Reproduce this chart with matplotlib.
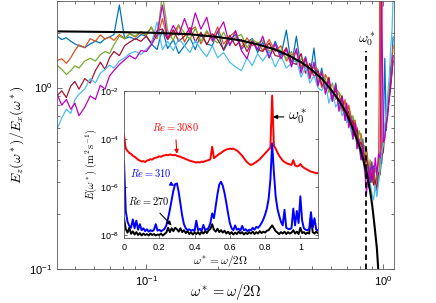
import numpy as np
import matplotlib
matplotlib.use("Agg")
import matplotlib.pyplot as plt
from matplotlib.ticker import NullFormatter, NullLocator

plt.rcParams['font.family'] = ['Liberation Sans', 'DejaVu Sans']
plt.rcParams['mathtext.fontset'] = 'cm'

# ---- main panel: E_z/E_x spectra ratio (omega* on log axis) ----
w_main = [0.042, 0.044, 0.046, 0.048, 0.050, 0.052, 0.055, 0.058, 0.061, 0.064,
          0.067, 0.070, 0.073, 0.077, 0.081, 0.085, 0.090, 0.095,
          0.100, 0.105, 0.111, 0.117, 0.123, 0.130, 0.137, 0.145, 0.153, 0.161,
          0.170, 0.180, 0.190, 0.200, 0.212, 0.225, 0.238, 0.252, 0.266, 0.280, 0.295,
          0.31, 0.33, 0.35, 0.37, 0.39, 0.41, 0.43, 0.45, 0.47, 0.49,
          0.51, 0.53, 0.55, 0.57, 0.59, 0.61, 0.63, 0.65, 0.67, 0.69,
          0.700, 0.715, 0.730, 0.745, 0.760, 0.775, 0.790, 0.805, 0.820, 0.835,
          0.850, 0.865, 0.880, 0.895, 0.910, 0.925, 0.940, 0.955, 0.970, 0.985,
          1.000, 1.015, 1.030, 1.045, 1.060, 1.075, 1.090, 1.100]

ratio_blue = [1.92, 1.84, 1.88, 1.80, 1.74, 1.70, 1.66, 1.74, 1.80, 1.76, 1.86, 1.90, 1.96, 2.85, 1.86, 1.90, 1.84, 1.96,
              1.92, 1.74, 1.62, 2.10, 1.64, 1.84, 1.54, 1.70, 1.88, 1.62, 1.96, 1.74, 1.70, 2.05, 1.60, 1.84, 1.96, 1.62, 1.78, 1.86, 1.56,
              1.78, 1.46, 1.80, 1.50, 2.07, 1.32, 1.92, 1.26, 1.48, 1.14, 1.65, 1.03, 1.28, 0.98, 1.01, 0.84, 1.06, 0.78, 0.89, 0.66,
              0.82, 0.64, 0.70, 0.55, 0.66, 0.52, 0.50, 0.42, 0.52, 0.40, 0.44, 0.31, 0.38, 0.30, 0.37, 0.28, 0.33, 0.31, 0.41, 0.38,
              0.55, 1.45, 0.58, 0.84, 0.86, 1.30, 1.48, 1.90]
ratio_orange = [1.41, 1.44, 1.36, 1.46, 1.60, 1.72, 1.66, 1.86, 1.80, 1.95, 1.85, 1.90, 1.82, 1.96, 1.86, 1.98, 1.90, 2.02,
                1.94, 2.15, 1.86, 2.40, 1.84, 1.98, 2.22, 1.78, 2.06, 2.16, 1.74, 2.02, 1.84, 2.16, 1.74, 1.92, 2.04, 1.66, 1.88, 1.70, 1.78,
                1.60, 1.84, 1.58, 1.70, 1.40, 1.52, 1.56, 1.30, 1.44, 1.20, 1.30, 1.26, 1.00, 1.18, 1.08, 0.88, 0.98, 0.94, 0.74, 0.86,
                0.66, 0.80, 0.70, 0.58, 0.66, 0.58, 0.46, 0.56, 0.48, 0.40, 0.46, 0.38, 0.31, 0.37, 0.34, 0.29, 0.35, 0.38, 3.20, 0.42,
                0.52, 0.56, 0.70, 0.74, 0.98, 1.08, 1.45, 1.70]
ratio_green = [1.33, 1.26, 1.18, 1.24, 1.32, 1.28, 1.40, 1.45, 1.40, 1.52, 1.58, 1.54, 1.72, 1.92, 1.86, 1.98, 1.92, 2.04,
               1.96, 2.16, 1.86, 3.30, 2.06, 1.82, 2.20, 2.00, 1.84, 2.12, 1.80, 2.06, 1.86, 1.76, 2.02, 1.72, 1.90, 1.96, 1.66, 1.84, 1.76,
               1.82, 1.58, 1.64, 1.60, 1.44, 1.58, 1.36, 1.44, 1.40, 1.16, 1.32, 1.10, 1.22, 1.12, 0.94, 1.06, 0.86, 0.94, 0.88, 0.70,
               0.80, 0.72, 0.62, 0.70, 0.60, 0.50, 0.58, 0.52, 0.42, 0.48, 0.42, 0.34, 0.40, 0.35, 0.30, 0.36, 0.33, 0.30, 0.44, 0.40,
               0.52, 0.60, 0.72, 0.78, 0.98, 1.06, 1.30, 1.50]
ratio_darkred = [0.90, 0.96, 0.88, 1.02, 1.08, 0.98, 1.12, 1.06, 1.24, 1.38, 1.26, 1.46, 1.58, 1.50, 1.70, 1.78, 1.86, 1.80,
                 1.92, 1.76, 2.06, 2.10, 1.84, 2.08, 1.80, 1.92, 2.14, 1.78, 2.02, 1.72, 1.98, 1.84, 1.62, 1.94, 1.70, 1.84, 1.58, 1.80, 1.62,
                 1.58, 1.76, 1.50, 1.48, 1.66, 1.38, 1.34, 1.54, 1.20, 1.36, 1.14, 1.24, 1.04, 0.98, 1.14, 0.86, 0.98, 0.80, 0.90, 0.72,
                 0.70, 0.74, 0.60, 0.66, 0.54, 0.60, 0.47, 0.50, 0.46, 0.38, 0.40, 0.36, 0.30, 0.34, 0.29, 0.31, 0.27, 0.34, 0.33, 0.42,
                 0.44, 0.56, 0.62, 0.76, 0.86, 1.08, 1.22, 1.40]
ratio_lightblue = [0.59, 0.68, 0.76, 0.72, 0.86, 0.92, 0.98, 1.12, 1.06, 1.20, 1.26, 1.33, 1.28, 1.40, 1.46, 1.54, 1.58, 1.52,
                   1.62, 1.74, 2.30, 1.62, 1.80, 1.60, 1.86, 1.70, 1.56, 1.82, 1.62, 1.48, 1.70, 1.46, 1.56, 1.38, 1.30, 1.24, 1.46, 1.32, 1.54,
                   1.40, 1.58, 1.30, 1.50, 1.28, 1.36, 1.42, 1.14, 1.30, 1.06, 1.16, 1.00, 0.96, 1.06, 0.82, 0.96, 0.78, 0.84, 0.70, 0.76,
                   0.64, 0.68, 0.58, 0.52, 0.60, 0.46, 0.48, 0.40, 0.42, 0.34, 0.36, 0.28, 0.30, 0.26, 0.24, 0.29, 0.25, 0.30, 0.35, 0.44,
                   0.48, 0.62, 0.70, 0.92, 1.15, 1.65, 2.10, 3.20]
ratio_magenta = [0.92, 0.80, 0.86, 0.76, 0.82, 0.70, 0.78, 0.90, 0.86, 1.03, 0.98, 1.16, 1.24, 1.34, 1.42, 1.50, 1.44, 1.60,
                 1.58, 1.72, 1.95, 2.85, 1.86, 2.20, 1.94, 2.40, 1.98, 2.58, 2.10, 2.44, 1.80, 2.02, 2.30, 1.70, 2.06, 1.60, 1.44, 1.80, 1.62,
                 1.92, 1.46, 1.74, 1.44, 1.62, 1.30, 1.64, 1.20, 1.46, 1.12, 1.38, 1.02, 1.22, 0.92, 1.10, 0.84, 1.04, 0.74, 0.88, 0.66,
                 0.82, 0.60, 0.68, 0.52, 0.64, 0.46, 0.52, 0.40, 0.48, 0.35, 0.26, 0.37, 0.30, 0.39, 0.31, 0.41, 0.33, 0.43, 0.41, 3.30,
                 0.50, 0.52, 0.64, 0.70, 0.88, 1.00, 1.24, 1.50]

# theoretical ratio (black curve)
w_theory = [0.042, 0.06, 0.08, 0.10, 0.15, 0.20, 0.25, 0.30, 0.35, 0.40, 0.45, 0.50, 0.55,
            0.60, 0.65, 0.70, 0.75, 0.80, 0.85, 0.88, 0.90, 0.92, 0.94, 0.95, 0.96, 0.97]
ratio_theory = [2.04, 2.03, 2.02, 2.01, 1.97, 1.90, 1.82, 1.72, 1.62, 1.50, 1.38, 1.25, 1.12,
                0.98, 0.85, 0.72, 0.58, 0.46, 0.34, 0.27, 0.22, 0.17, 0.13, 0.105, 0.085, 0.06]

w0_star = 0.848
w0_line_y = [0.1, 1.6]

# ---- inset: E(omega*) for three Re (log10 of E, m^2 s^-1) ----
w_inset = [0.00, 0.01, 0.02, 0.03, 0.04, 0.05, 0.06, 0.07, 0.08, 0.09,
           0.10, 0.11, 0.12, 0.13, 0.14, 0.15, 0.16, 0.17, 0.18, 0.19,
           0.20, 0.21, 0.22, 0.23, 0.24, 0.25, 0.26, 0.27, 0.28, 0.29,
           0.30, 0.31, 0.32, 0.33, 0.34, 0.35, 0.36, 0.37, 0.38, 0.39,
           0.40, 0.41, 0.42, 0.43, 0.44, 0.45, 0.46, 0.47, 0.48, 0.49,
           0.50, 0.51, 0.52, 0.53, 0.54, 0.55, 0.56, 0.57, 0.58, 0.59,
           0.60, 0.61, 0.62, 0.63, 0.64, 0.65, 0.66, 0.67, 0.68, 0.69,
           0.70, 0.71, 0.72, 0.73, 0.74, 0.75, 0.76, 0.77, 0.78, 0.79,
           0.80, 0.81, 0.82, 0.83, 0.84, 0.85, 0.86, 0.87, 0.88, 0.89,
           0.90, 0.91, 0.92, 0.93, 0.94, 0.95, 0.96, 0.97, 0.98, 0.99,
           1.00, 1.01, 1.02, 1.03, 1.04, 1.05, 1.06, 1.07, 1.08, 1.09, 1.10]

logE_re3080 = [-3.84, -4.40, -4.50, -4.58, -4.62, -4.70, -4.74, -4.80, -4.86, -4.90,
               -4.94, -4.92, -4.96, -4.90, -4.88, -4.84, -4.86, -4.80, -4.78, -4.76,
               -4.72, -4.74, -4.70, -4.68, -4.66, -4.68, -4.64, -4.66, -4.68, -4.66,
               -4.70, -4.72, -4.74, -4.78, -4.80, -4.84, -4.86, -4.90, -4.92, -4.94,
               -4.96, -4.98, -4.96, -4.98, -4.94, -4.96, -4.92, -4.90, -4.88, -4.84,
               -4.32, -4.80, -4.74, -4.68, -4.62, -4.58, -4.52, -4.48, -4.44, -4.42,
               -4.40, -4.42, -4.40, -4.44, -4.48, -4.54, -4.62, -4.70, -4.80, -4.90,
               -4.98, -5.04, -5.08, -5.06, -5.00, -4.96, -4.90, -4.84, -4.76, -4.68,
               -4.60, -4.52, -4.44, -4.36, -2.19, -4.28, -4.40, -4.56, -4.70, -4.80,
               -4.90, -4.96, -5.00, -5.04, -5.06, -5.08, -4.88, -5.10, -5.14, -5.12,
               -5.04, -5.14, -5.20, -5.24, -5.28, -5.32, -5.36, -5.38, -5.40, -5.42, -5.42]
logE_re310 = [-4.94, -7.00, -7.45, -7.62, -7.70, -7.35, -7.72, -7.40, -7.78, -7.55,
              -7.80, -7.72, -7.84, -7.76, -7.86, -7.80, -7.84, -7.78, -7.55, -7.82,
              -7.78, -7.84, -7.80, -7.74, -7.60, -7.30, -6.95, -6.55, -6.15, -5.88,
              -5.85, -6.20, -6.70, -7.20, -7.55, -7.72, -7.80, -7.76, -7.82, -7.78,
              -7.84, -7.40, -7.80, -7.74, -7.82, -7.58, -7.80, -7.76, -7.70, -7.50,
              -7.10, -7.30, -6.80, -6.30, -5.90, -5.78, -5.95, -6.25, -6.65, -7.10,
              -7.50, -7.72, -7.80, -7.60, -7.78, -7.74, -7.82, -7.62, -7.80, -7.76,
              -7.84, -7.78, -7.80, -7.70, -7.78, -7.66, -7.70, -7.62, -7.50, -7.35,
              -7.15, -6.90, -6.50, -5.70, -4.18, -5.40, -6.40, -6.90, -7.20, -7.45,
              -7.60, -6.95, -7.70, -7.74, -7.76, -7.70, -6.90, -7.60, -7.00, -7.50,
              -6.39, -7.40, -7.72, -7.78, -7.80, -7.74, -7.05, -7.70, -7.30, -7.78, -7.80]
logE_re270 = [-7.30, -7.75, -7.90, -7.70, -7.95, -7.85, -7.98, -7.88, -8.00, -7.92,
              -8.02, -7.94, -8.00, -7.96, -8.02, -7.94, -8.00, -7.96, -8.02, -7.98,
              -8.00, -7.94, -8.02, -7.96, -7.90, -7.70, -7.88, -7.72, -7.84, -7.70,
              -7.76, -7.86, -7.72, -7.88, -7.80, -7.92, -7.84, -7.96, -7.88, -7.98,
              -7.90, -7.96, -7.88, -7.98, -7.86, -7.94, -7.84, -7.92, -7.80, -7.75,
              -7.55, -7.78, -7.86, -7.74, -7.88, -7.80, -7.90, -7.82, -7.94, -7.86,
              -7.96, -7.88, -7.98, -7.90, -7.96, -7.86, -7.94, -7.88, -7.98, -7.90,
              -7.96, -7.88, -7.94, -7.86, -7.96, -7.88, -7.94, -7.84, -7.92, -7.86,
              -7.90, -7.82, -7.80, -7.70, -7.60, -7.72, -7.84, -7.90, -7.96, -7.88,
              -7.94, -7.86, -7.96, -7.88, -7.94, -7.90, -7.80, -7.94, -7.86, -7.96,
              -7.70, -7.92, -7.88, -7.96, -7.90, -7.94, -7.25, -7.88, -7.94, -7.86, -7.92]

inset_xticks = [0, 0.2, 0.4, 0.6, 0.8, 1.0]
inset_xticklabels = ['0', '0.2', '0.4', '0.6', '0.8', '1']
inset_yticks = [1e-8, 1e-6, 1e-4, 1e-2]

spine_c = '0.35'

fig = plt.figure(figsize=(4.36, 3.03), dpi=100)
ax = fig.add_axes([57/436, 34/303, 337/436, 268/303])

cols = ['#0072BD', '#D95319', '#77AC30', '#A2142F', '#4DBEEE', '#C000C0']
for y, c in zip([ratio_blue, ratio_orange, ratio_green, ratio_darkred, ratio_lightblue, ratio_magenta], cols):
    ax.plot(w_main, y, color=c, lw=0.9)
ax.plot(w_theory, ratio_theory, color='k', lw=1.5)
ax.plot([w0_star, w0_star], w0_line_y, 'k--', lw=1.3, dashes=(3, 2))
ax.text(w0_star, 1.85, r'$\omega_0^*$', ha='center', va='center', fontsize=10)

ax.set_xscale('log'); ax.set_yscale('log')
ax.set_xlim(0.042, 1.11); ax.set_ylim(0.1, 3.0)
ax.xaxis.set_minor_formatter(NullFormatter()); ax.yaxis.set_minor_formatter(NullFormatter())
ax.tick_params(which='both', direction='in', top=True, right=True, color=spine_c, labelsize=8, width=0.6)
ax.tick_params(which='major', length=3.5); ax.tick_params(which='minor', length=2)
for s in ax.spines.values():
    s.set_color(spine_c); s.set_linewidth(0.6)
ax.set_xlabel(r'$\omega^* = \omega/2\Omega$', fontsize=10.5, labelpad=-4)
ax.set_ylabel(r'$E_z(\omega^*)/E_x(\omega^*)$', fontsize=10, labelpad=2)

# inset
ins = fig.add_axes([124/436, 65/303, 194/436, 147/303])
ins.set_facecolor('white')
ins.plot(w_inset, 10.0**np.array(logE_re3080), color='r', lw=1.4)
ins.plot(w_inset, 10.0**np.array(logE_re270), color='k', lw=1.4)
ins.plot(w_inset, 10.0**np.array(logE_re310), color='b', lw=1.4)
ins.set_yscale('log')
ins.set_xlim(0, 1.1); ins.set_ylim(7.5e-9, 1e-2)
ins.set_xticks(inset_xticks); ins.set_xticklabels(inset_xticklabels)
ins.set_yticks(inset_yticks); ins.yaxis.set_minor_locator(NullLocator())
ins.tick_params(which='both', direction='in', top=True, right=True, color=spine_c, labelsize=6.5, width=0.6, length=2.5)
for s in ins.spines.values():
    s.set_color(spine_c); s.set_linewidth(0.6)
ins.set_xlabel(r'$\omega^* = \omega/2\Omega$', fontsize=8, labelpad=1)
ins.set_ylabel(r'$E(\omega^*)\ (\mathrm{m^2\,s^{-1}})$', fontsize=7.5, labelpad=1)

ins.annotate(r'$Re = 3080$', xy=(0.30, 10**-4.62), xytext=(0.29, 10**-3.5), color='r', fontsize=7.5,
             ha='center', va='center',
             arrowprops=dict(arrowstyle='-|>', color='r', lw=0.8, mutation_scale=6, shrinkA=3, shrinkB=0))
ins.annotate(r'$Re = 310$', xy=(0.285, 10**-5.95), xytext=(0.15, 10**-5.42), color='b', fontsize=7.5,
             ha='center', va='center',
             arrowprops=dict(arrowstyle='-|>', color='b', lw=0.8, mutation_scale=6, shrinkA=3, shrinkB=0))
ins.annotate(r'$Re = 270$', xy=(0.27, 10**-7.6), xytext=(0.14, 10**-6.6), color='k', fontsize=7.5,
             ha='center', va='center',
             arrowprops=dict(arrowstyle='-|>', color='k', lw=0.8, mutation_scale=6, shrinkA=3, shrinkB=0))
ins.annotate(r'$\omega_0^*$', xy=(0.845, 10**-3.08), xytext=(0.93, 10**-3.08), color='k', fontsize=11,
             ha='left', va='center',
             arrowprops=dict(arrowstyle='-|>', color='k', lw=0.8, mutation_scale=6, shrinkA=1, shrinkB=0))

fig.savefig('out.png', dpi=100)
